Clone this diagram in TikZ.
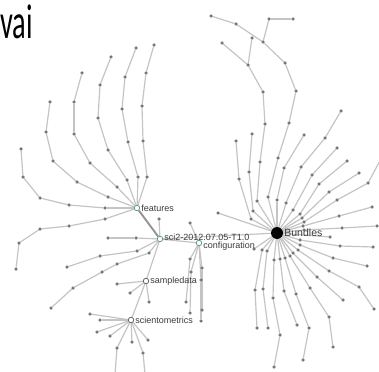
\documentclass[tikz,border=0pt]{standalone}
\usepackage{fontspec}
\setmainfont{Liberation Sans}
\newfontfamily\titlefont{Carlito}
\usetikzlibrary{backgrounds}
\definecolor{edgegray}{HTML}{C4C4C4}
\definecolor{dotgray}{HTML}{7C7C7C}
\definecolor{pkgteal}{HTML}{5E9C8C}
\definecolor{labelgray}{HTML}{3A3A3A}
\tikzset{
  edge/.style     = {draw=edgegray, line width=1.2pt},
  trunk/.style    = {draw=gray!85, line width=1.9pt},
  dot/.style      = {circle, fill=dotgray, draw=dotgray!70!black, line width=0.2pt,
                     inner sep=0pt, minimum size=3pt},
  pkg/.style      = {circle, draw=pkgteal, fill=white, line width=0.8pt,
                     inner sep=0pt, minimum size=5.5pt},
  plainpkg/.style = {pkg, draw=gray!80!black},
  hub/.style      = {circle, fill=black, inner sep=0pt, minimum size=12pt},
  pkglabel/.style = {font=\fontsize{9}{10}\selectfont, text=labelgray, inner sep=1pt},
}
% one chain of dots hanging from a parent node
\newcommand\chain[3]{%
  \xdef\prev{#1}%
  \foreach \p [count=\k] in {#3}{%
    \node[dot] (#2\k) at \p {};
    \begin{scope}[on background layer]
      \draw[edge] (\prev) -- (#2\k);
    \end{scope}
    \xdef\prev{#2\k}%
  }%
}

\begin{document}
\begin{tikzpicture}[x=1pt,y=-1pt]
  \useasboundingbox (0,0) rectangle (379,371);
  \node[font=\titlefont\fontsize{49}{52}\selectfont, xscale=0.58,
        anchor=base west, inner sep=0pt] (title) at (0,39) {vai};

  % packages
  \node[pkg, label={[pkglabel, yshift=2pt]right:sci2-2012.07.05-T1.0}] (sci) at (160,239) {};
  \node[pkg, label={[pkglabel]right:features}] (features) at (137,208) {};
  \node[pkg, label={[pkglabel, yshift=-3.5pt]right:configuration}] (config) at (199,243) {};
  \node[plainpkg, label={[pkglabel]right:sampledata}] (sampledata) at (146,281) {};
  \node[plainpkg, label={[pkglabel]right:scientometrics}] (scientometrics) at (131,320) {};
  \node[hub, label={[pkglabel, font=\fontsize{10.5}{12}\selectfont]right:Bundles}] (bundles) at (277,233) {};

  \begin{scope}[on background layer]
    \draw[trunk] (features) -- (sci);
    \draw[edge] (sci) -- (config);
    \draw[edge] (sci) -- (bundles);
    \draw[edge] (sci) -- (sampledata) -- (scientometrics);
  \end{scope}

  % features
  \chain{features}{fa}{(147,177),(143,141),(142,106),(146,73),(154,45)}
  \chain{features}{fb}{(138,177),(128,142),(122,109),(125,77),(136,48)}
  \chain{features}{fc}{(127,180),(108,150),(98,118),(100,85),(111,57)}
  \chain{features}{fd}{(117,187),(90,163),(74,134),(74,102),(82,73)}
  \chain{features}{fe}{(108,197),(77,182),(53,161),(46,132),(50,102)}
  \chain{features}{ff}{(105,208),(69,205),(40,198),(23,177),(21,149)}
  \chain{features}{fg}{(105,219),(69,226),(40,229),(19,243),(16,269)}

  % sci2 root
  \chain{sci}{sa}{(136,238),(108,238)}
  \chain{sci}{sb}{(159,219)}
  \chain{sci}{sc}{(137,251),(100,256),(67,267)}
  \chain{sci}{sd}{(149,253),(117,264),(102,272),(73,288),(51,308)}

  % sampledata, scientometrics
  \chain{sampledata}{da}{(117,284)}
  \chain{sampledata}{db}{(130,293)}
  \chain{sampledata}{dc}{(149,302)}
  \chain{scientometrics}{ma}{(90,314)}
  \chain{scientometrics}{mb}{(100,320)}
  \chain{scientometrics}{mc}{(97,332)}
  \chain{scientometrics}{md}{(110,336)}
  \chain{scientometrics}{me}{(132,342)}
  \chain{scientometrics}{mf}{(148,340)}
  \chain{scientometrics}{mg}{(117,348),(115,374)}
  \chain{scientometrics}{mh}{(143,353),(145,374)}

  % configuration
  \chain{config}{ca}{(190,223)}
  \chain{config}{cb}{(190,259),(186,302)}
  \chain{config}{cc}{(191,272),(190,313)}
  \chain{config}{cd}{(202,268),(202,310)}
  \chain{config}{ce}{(201,280),(201,321)}

  % Bundles
  \chain{bundles}{ua}{(268,197),(278,158),(289,123),(296,91),(285,63),(263,42),(236,24),(211,16)}
  \chain{ua6}{uc}{(269,19),(293,19)}
  \chain{bundles}{ub}{(257,201),(260,162),(265,124),(263,92),(248,65),(222,43)}
  \chain{ub5}{ud}{(252,38)}
  \chain{bundles}{ba}{(251,219),(239,179),(236,141)}
  \chain{bundles}{bb}{(253,211),(249,172),(252,134)}
  \chain{bundles}{bc}{(277,200),(284,168),(304,135)}
  \chain{bundles}{bd}{(286,203),(301,167),(325,138),(341,111)}
  \chain{bundles}{be}{(293,210),(312,175),(337,148)}
  \chain{bundles}{bf}{(300,214),(319,184),(347,161)}
  \chain{bundles}{bg}{(302,218),(329,192),(359,173)}
  \chain{bundles}{bh}{(304,222),(337,200),(368,183),(382,157)}
  \chain{bundles}{bi}{(303,226),(339,216),(372,207)}
  \chain{bundles}{bj}{(304,230),(342,228),(377,226)}
  \chain{bundles}{bk}{(330,237)}
  \chain{bundles}{bl}{(300,240),(340,246),(373,247)}
  \chain{bundles}{bm}{(300,245),(333,258),(367,266)}
  \chain{bundles}{bo}{(298,250),(329,271),(359,287),(374,309)}
  \chain{bundles}{bn}{(293,253),(317,277),(343,300)}
  \chain{bundles}{bp}{(290,256),(310,288),(329,317),(333,347)}
  \chain{bundles}{bq}{(285,258),(296,294),(309,328),(303,360)}
  \chain{bundles}{br}{(280,259),(284,291),(297,325)}
  \chain{bundles}{bs}{(274,260),(273,298),(280,335),(274,367)}
  \chain{bundles}{bt}{(267,251),(263,289),(268,328)}
  \chain{bundles}{bu}{(262,250),(255,290),(257,328)}
  \chain{bundles}{bv}{(254,249)}
  \chain{bundles}{bw}{(218,213)}
\end{tikzpicture}
\end{document}
